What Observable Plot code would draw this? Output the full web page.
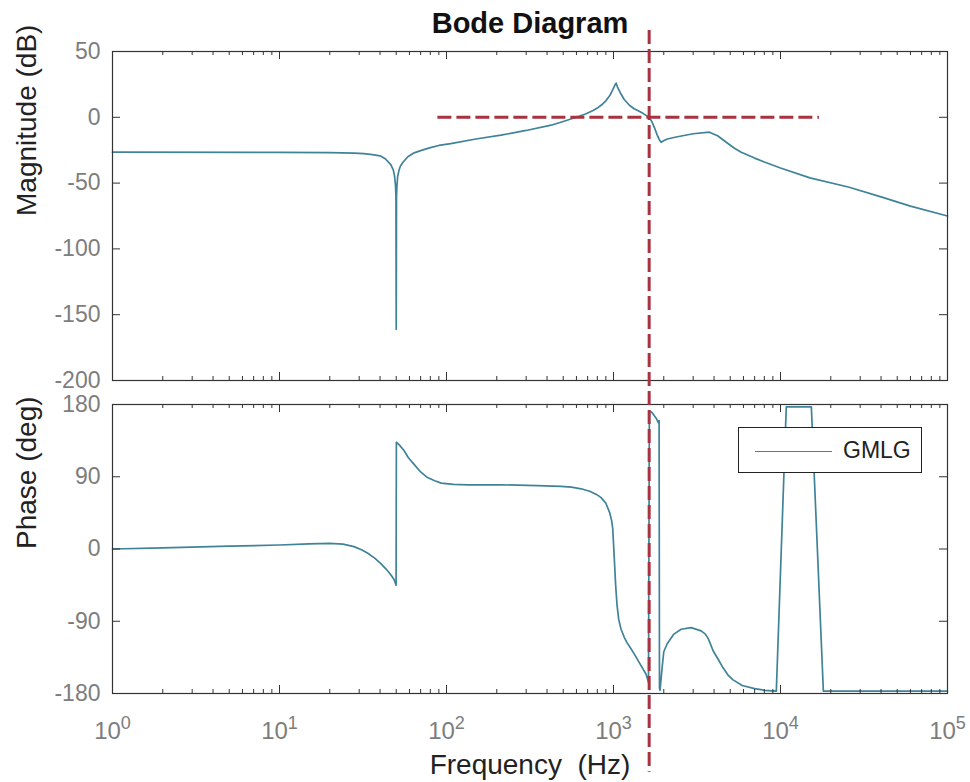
<!DOCTYPE html>
<html>
<head>
<meta charset="utf-8">
<script src="https://cdn.jsdelivr.net/npm/d3@7"></script>
<script src="https://cdn.jsdelivr.net/npm/@observablehq/plot@0.6"></script>
<style>
  body { margin: 0; background: #fff; font-family: "Liberation Sans", Arial, Helvetica, sans-serif; }
  #wrap { position: relative; width: 970px; height: 782px; overflow: hidden; background: #fff; }
  #wrap > svg { position: absolute; left: 0; top: 0; background: transparent !important; overflow: visible !important; max-width: none !important; }
  #wrap text { white-space: pre; }
  #legend { position: absolute; box-sizing: border-box; background: #fff; border: 1.5px solid #222; }
  #legend .sample { position: absolute; height: 0; border-top: 1.6px solid #3f8399; }
  #legend .name { position: absolute; font-size: 23px; color: #222; line-height: 1; }
</style>
</head>
<body>
<div id="wrap"></div>
<script>
// ---------------- data ----------------
const titleText = "Bode Diagram";
const magLabel = "Magnitude (dB)";
const phaseLabel = "Phase (deg)";
const freqLabel = "Frequency  (Hz)";
const seriesNames = ["GMLG"];

// magnitude response (Hz, dB)
const magFreq = [1, 10, 20, 28, 32, 36, 40, 43, 46.4, 48, 48.9, 49.5, 49.8, 50, 50.2, 50.5, 51, 52, 53, 55, 58.7, 64, 70, 80, 90,
  106, 150, 212, 300, 423, 500, 597, 680, 750, 800, 850, 900, 950, 990, 1020, 1037, 1060, 1100, 1159, 1250, 1330, 1406, 1500,
  1635, 1700, 1760, 1820, 1880, 1928, 1980, 2100, 2373, 3000, 3750, 4200, 4800, 5300, 5820, 7000, 8000, 10000, 15000, 25470,
  40000, 60000, 100000];
const magDb = [-26.5, -26.6, -26.8, -27.2, -27.6, -28.3, -29.3, -31.5, -36, -40, -45, -52, -60, -161, -60, -52, -45, -40, -37, -34, -30, -27, -25.3, -23, -21.4,
  -20, -16.5, -13.6, -10, -6, -3.2, 0, 2.5, 5, 7, 9.5, 12.5, 16.5, 21, 24.5, 26, 22.5, 18.5, 13.5, 9, 6.5, 5, 3,
  0, -3.5, -8, -13, -17, -19, -18, -16.5, -15, -12.5, -11.3, -14, -19.5, -23.5, -26.5, -31, -34, -38.5, -46, -53,
  -60.5, -67.5, -75];

// phase response (Hz, deg)
const phaseFreq = [1, 2, 5, 10, 15, 20, 24, 27.9, 31, 33.6, 37, 40.3, 43.5, 46.4, 48.5, 49.9, 50.1, 52, 55.5, 59, 63.6, 70, 77, 85, 93,
  110, 134, 211, 350, 485, 560, 640, 720, 790, 843, 900, 950, 975, 990, 1010, 1030, 1050, 1075, 1110, 1160, 1200, 1270, 1333,
  1450, 1567, 1620, 1640, 1700, 1800, 1860, 1875, 1885, 1900, 1950, 2000, 2096, 2300, 2541, 2917, 3350, 3550, 3700, 3955,
  4250, 4530, 4850, 5200, 5900, 7000, 8000, 9440, 10830, 15300, 18060, 100000];
const phaseDeg = [0, 1.5, 3.5, 5, 6.5, 7, 6, 3, -1, -5, -11, -18, -25, -32, -38, -45, 133, 130, 123, 114, 106, 96, 89, 85, 82,
  80.5, 80, 80, 79, 78, 77, 75, 72, 68, 64, 57, 45, 35, 25, -10, -45, -70, -88, -100, -110, -116, -124, -131,
  -144, -156, -166, 172, 170, 163, 157, 160, -173, -176, -150, -128, -118, -106, -100, -98, -102, -106, -112, -127,
  -138, -148, -157, -163, -170, -174, -176, -177, 177, 177, -177, -177];

// reference lines
const zeroDbLine = [{ y: 0, x1: 88.8, x2: 17100 }];          // 0 dB dashed line span (Hz)
const crossover = [{ f: 1635, y1: 646, y2: -278 }];          // vertical dashed line, spans beyond the phase axes (deg units)

// axes ticks
const xDomain = [1, 100000];
const decades = [1, 10, 100, 1000, 10000, 100000];
const minorMult = [2, 3, 4, 5, 6, 7, 8, 9];
const magTicks = [50, 0, -50, -100, -150, -200];
const magDomain = [-200, 50];
const phaseTicks = [180, 90, 0, -90, -180];
const phaseDomain = [-180, 180];

// ---------------- styles ----------------
const FONT = '"Liberation Sans", Arial, Helvetica, sans-serif';
const CURVE = "#3f8399";
const RED = "#a83240";
const AX = "#333333";
const GREY = "#7d7d7d";
const DARK = "#222222";

const W = 970, ML = 112, MR = 23;
const FW = W - ML - MR;               // frame width
const topM = 51, topH = 390, topMB = 10;
const botM = 404, botH = 782, botMB = 89;
const topFH = topH - topM - topMB;    // frame heights
const botFH = botH - botM - botMB;

const magData = magFreq.map((f, i) => ({ f, v: magDb[i] }));
const phaseData = phaseFreq.map((f, i) => ({ f, v: phaseDeg[i] }));
const minor = decades.slice(0, -1).flatMap(d => minorMult.map(k => k * d));
const hyphenFmt = d => String(d);

function boxTicks(fh, yTicks) {
  return [
    Plot.frame({ stroke: AX, strokeWidth: 1.2 }),
    Plot.tickX(decades, { x: d => d, insetTop: fh - 8, stroke: AX }),
    Plot.tickX(decades, { x: d => d, insetBottom: fh - 8, stroke: AX }),
    Plot.tickX(minor, { x: d => d, insetTop: fh - 4, stroke: AX }),
    Plot.tickX(minor, { x: d => d, insetBottom: fh - 4, stroke: AX }),
    Plot.tickY(yTicks, { y: d => d, insetRight: FW - 8, stroke: AX }),
    Plot.tickY(yTicks, { y: d => d, insetLeft: FW - 8, stroke: AX })
  ];
}

const topPlot = Plot.plot({
  width: W, height: topH,
  marginLeft: ML, marginRight: MR, marginTop: topM, marginBottom: topMB,
  style: { background: "transparent", overflow: "visible", fontFamily: FONT },
  x: { type: "log", domain: xDomain, axis: null },
  y: { domain: magDomain },
  marks: [
    Plot.line(magData, { x: "f", y: "v", stroke: CURVE, strokeWidth: 1.7 }),
    Plot.ruleY(zeroDbLine, { y: "y", x1: "x1", x2: "x2", stroke: RED, strokeWidth: 3, strokeDasharray: "14,5" }),
    ...boxTicks(topFH, magTicks),
    Plot.axisY({ ticks: magTicks, tickSize: 0, tickPadding: 12, fontSize: 23, color: GREY, fill: GREY, label: null, tickFormat: hyphenFmt }),
    Plot.text([titleText], { frameAnchor: "top", dy: -28, fontSize: 29, fontWeight: "bold", fill: "#111", lineAnchor: "middle" }),
    Plot.text([magLabel], { frameAnchor: "left", dx: -85, rotate: -90, fontSize: 28, fill: DARK, lineAnchor: "middle" })
  ]
});

const botPlot = Plot.plot({
  width: W, height: botH,
  marginLeft: ML, marginRight: MR, marginTop: botM, marginBottom: botMB,
  style: { background: "transparent", overflow: "visible", fontFamily: FONT },
  x: { type: "log", domain: xDomain },
  y: { domain: phaseDomain },
  marks: [
    Plot.line(phaseData, { x: "f", y: "v", stroke: CURVE, strokeWidth: 1.7 }),
    ...boxTicks(botFH, phaseTicks),
    Plot.axisY({ ticks: phaseTicks, tickSize: 0, tickPadding: 12, fontSize: 23, color: GREY, fill: GREY, label: null, tickFormat: hyphenFmt }),
    Plot.axisX({ ticks: decades, tickSize: 0, tickPadding: 28, fontSize: 24, color: GREY, fill: GREY, label: null,
                 tickFormat: d => String(Math.round(Math.log10(d))) }),
    Plot.ruleX(crossover, { x: "f", y1: "y1", y2: "y2", stroke: RED, strokeWidth: 3, strokeDasharray: "14,5" }),
    Plot.text([phaseLabel], { frameAnchor: "left", dx: -85, rotate: -90, fontSize: 28, fill: DARK, lineAnchor: "middle" }),
    Plot.text([freqLabel], { frameAnchor: "bottom", dy: 72, fontSize: 28, fill: DARK, lineAnchor: "middle" })
  ]
});

// superscript exponents for the decade tick labels: 10^n
botPlot.querySelectorAll('g[aria-label*="x-axis"] text').forEach(t => {
  const e = t.textContent;
  if (!/^-?\d+$/.test(e)) return;
  t.textContent = "10";
  const ts = document.createElementNS("http://www.w3.org/2000/svg", "tspan");
  ts.setAttribute("dy", "-10");
  ts.setAttribute("font-size", "18");
  ts.textContent = e;
  t.appendChild(ts);
});

const wrap = document.getElementById("wrap");
wrap.appendChild(topPlot);
wrap.appendChild(botPlot);

// legend box
const lg = document.createElement("div");
lg.id = "legend";
Object.assign(lg.style, { left: "738px", top: "427px", width: "184px", height: "46px" });
seriesNames.forEach(name => {
  const s = document.createElement("div");
  s.className = "sample";
  Object.assign(s.style, { left: "16px", top: "23px", width: "77px" });
  const n = document.createElement("div");
  n.className = "name";
  Object.assign(n.style, { left: "104px", top: "11px" });
  n.textContent = name;
  lg.appendChild(s);
  lg.appendChild(n);
});
wrap.appendChild(lg);
</script>
</body>
</html>
